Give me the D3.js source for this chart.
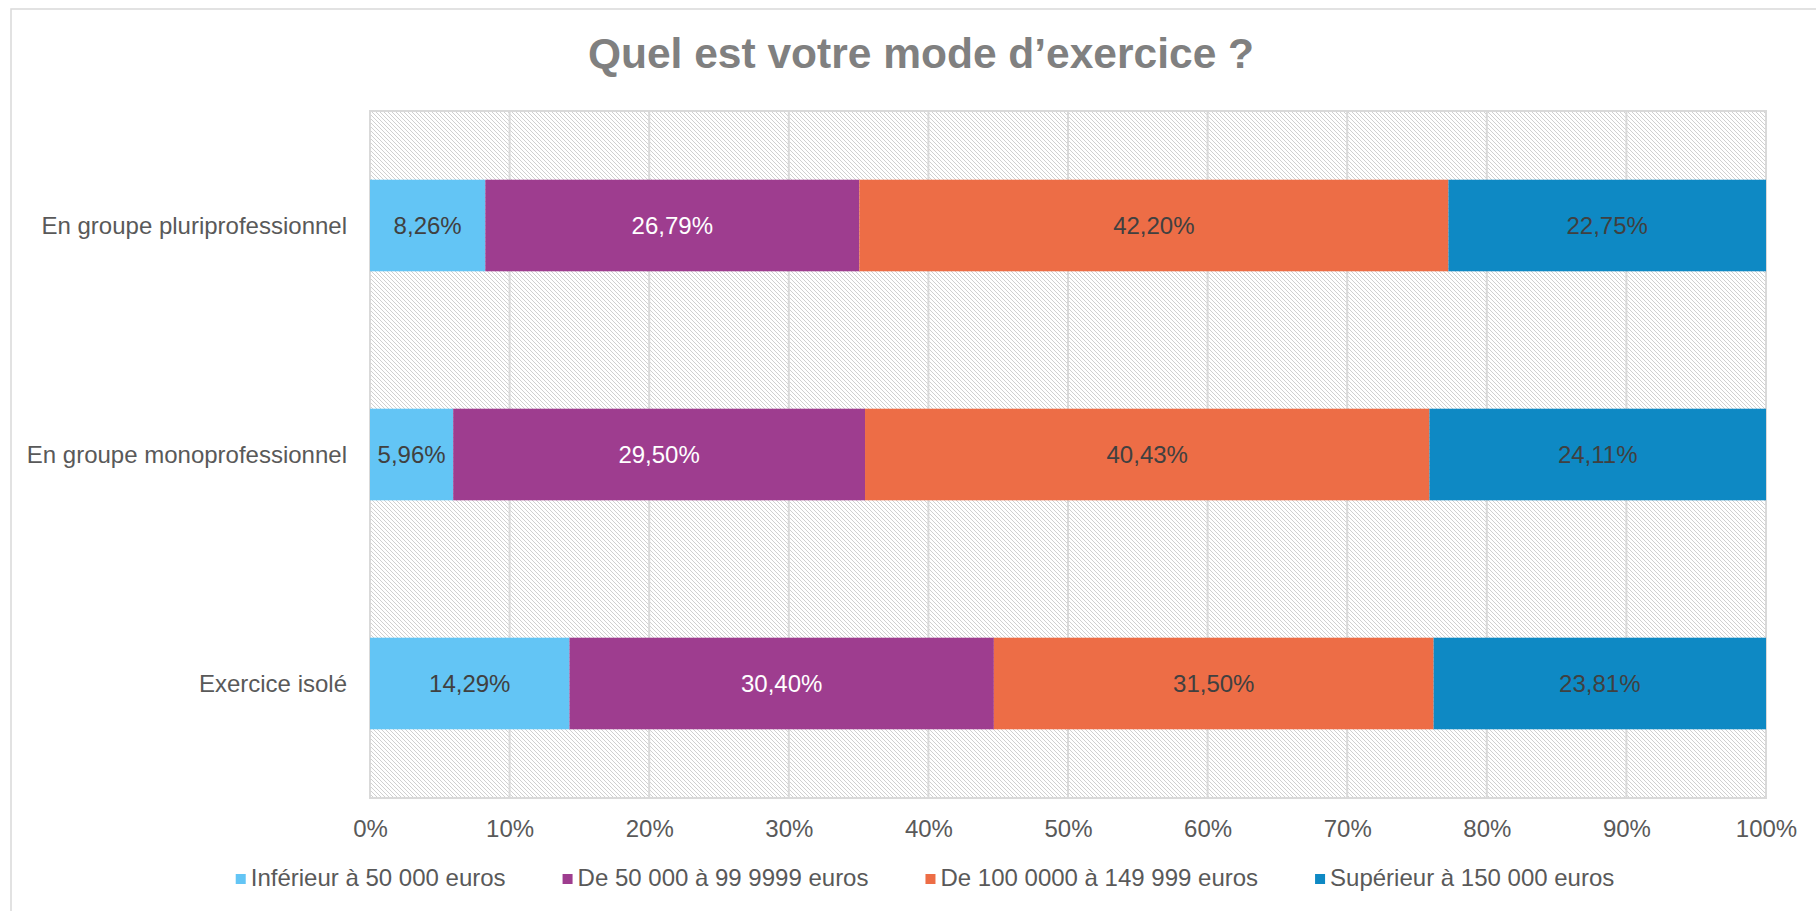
<!DOCTYPE html>
<html>
<head>
<meta charset="utf-8">
<script src="https://cdn.jsdelivr.net/npm/d3@7"></script>
<style>
  html, body { margin: 0; padding: 0; background: #fff; }
  svg { display: block; font-family: "Liberation Sans", Arial, sans-serif; }
</style>
</head>
<body>
<svg id="chart" width="1816" height="911"></svg>
<script>
const title = "Quel est votre mode d\u2019exercice ?";
const categories = ["En groupe pluriprofessionnel", "En groupe monoprofessionnel", "Exercice isolé"];
const seriesNames = ["Inférieur à 50 000 euros", "De 50 000 à 99 9999 euros", "De 100 0000 à 149 999 euros", "Supérieur à 150 000 euros"];
const inferieur50k = [8.26, 5.96, 14.29];
const de50a100k = [26.79, 29.50, 30.40];
const de100a150k = [42.20, 40.43, 31.50];
const superieur150k = [22.75, 24.11, 23.81];
const tickValues = [0, 10, 20, 30, 40, 50, 60, 70, 80, 90, 100];
const seriesColors = ["#63C5F5", "#9E3D8F", "#ED6D46", "#0E89C4"];
const labelColors = ["#404040", "#ffffff", "#404040", "#404040"];

const seriesValues = [inferieur50k, de50a100k, de100a150k, superieur150k];
const table = categories.map((c, i) => {
  const row = { cat: c };
  seriesNames.forEach((s, j) => row[s] = seriesValues[j][i]);
  return row;
});

const svg = d3.select("#chart");
const plot = { left: 370, right: 1766, top: 111, bottom: 798 };

// outer chart border
svg.append("rect").attr("x", 11).attr("y", 9).attr("width", 1900).attr("height", 1000)
  .attr("fill", "#fff").attr("stroke", "#d9d9d9").attr("stroke-width", 1.5);

// hatch pattern
const defs = svg.append("defs");
const pat = defs.append("pattern").attr("id", "hatch").attr("patternUnits", "userSpaceOnUse")
  .attr("width", 4).attr("height", 4);
pat.append("rect").attr("width", 4).attr("height", 4).attr("fill", "#ffffff");
for (let k = 0; k < 4; k++) {
  pat.append("rect").attr("x", k).attr("y", k).attr("width", 1).attr("height", 1).attr("fill", "#d0d0d0");
}

const x = d3.scaleLinear().domain([0, 100]).range([plot.left, plot.right]);
const y = d3.scaleBand().domain(categories).range([plot.top, plot.bottom])
  .paddingInner(0.6).paddingOuter(0.3);

// plot background
svg.append("rect").attr("x", plot.left).attr("y", plot.top)
  .attr("width", plot.right - plot.left).attr("height", plot.bottom - plot.top)
  .attr("fill", "url(#hatch)");

// gridlines
svg.append("g").selectAll("line").data(tickValues).join("line")
  .attr("x1", d => x(d)).attr("x2", d => x(d))
  .attr("y1", plot.top).attr("y2", plot.bottom)
  .attr("stroke", "#d9d9d9").attr("stroke-width", 2);

// plot border
svg.append("rect").attr("x", plot.left).attr("y", plot.top)
  .attr("width", plot.right - plot.left).attr("height", plot.bottom - plot.top)
  .attr("fill", "none").attr("stroke", "#d9d9d9").attr("stroke-width", 2);

// stacked bars
const stack = d3.stack().keys(seriesNames);
const stacked = stack(table);
const gBars = svg.append("g");
stacked.forEach((layer, j) => {
  const g = gBars.append("g");
  g.selectAll("rect").data(layer).join("rect")
    .attr("x", d => x(d[0]))
    .attr("y", d => y(d.data.cat))
    .attr("width", d => x(d[1]) - x(d[0]))
    .attr("height", y.bandwidth())
    .attr("fill", seriesColors[j]);
  g.selectAll("text").data(layer).join("text")
    .attr("x", d => (x(d[0]) + x(d[1])) / 2)
    .attr("y", d => y(d.data.cat) + y.bandwidth() / 2)
    .attr("text-anchor", "middle")
    .attr("dominant-baseline", "central")
    .attr("font-size", 24)
    .attr("fill", labelColors[j])
    .text(d => d3.format(".2f")(d[1] - d[0]).replace(".", ",") + "%");
});

// x axis
const xAxis = d3.axisBottom(x).tickValues(tickValues).tickSize(0).tickPadding(0)
  .tickFormat(d => d + "%");
const gx = svg.append("g").attr("transform", `translate(0,${plot.bottom})`).call(xAxis);
gx.select(".domain").remove();
gx.selectAll("text").attr("font-size", 24).attr("fill", "#595959")
  .attr("font-family", "Liberation Sans, Arial, sans-serif")
  .attr("dy", null).attr("y", 39);

// y axis
const yAxis = d3.axisLeft(y).tickSize(0).tickPadding(23);
const gy = svg.append("g").attr("transform", `translate(${plot.left},0)`).call(yAxis);
gy.select(".domain").remove();
gy.selectAll("text").attr("font-size", 24).attr("fill", "#595959")
  .attr("font-family", "Liberation Sans, Arial, sans-serif")
  .attr("dy", null).attr("dominant-baseline", "central");

// title
svg.append("text").attr("x", 921).attr("y", 68).attr("text-anchor", "middle")
  .attr("font-size", 42.5).attr("font-weight", "bold").attr("fill", "#808080")
  .text(title);

// legend
const legend = svg.append("g");
const items = legend.selectAll("g").data(seriesNames).join("g");
items.append("rect").attr("width", 10).attr("height", 10).attr("y", -12)
  .attr("fill", (d, i) => seriesColors[i]);
items.append("text").attr("x", 15).attr("y", 0)
  .attr("font-size", 24).attr("fill", "#595959").text(d => d);
const gap = 57;
const widths = [];
items.each(function() {
  const tw = d3.select(this).select("text").node().getComputedTextLength();
  widths.push(15 + tw);
});
const total = d3.sum(widths) + gap * (widths.length - 1);
const start = 925 - total / 2;
let offs = 0;
items.attr("transform", (d, i) => {
  const tx = start + offs;
  offs += widths[i] + gap;
  return `translate(${tx},${886})`;
});
</script>
</body>
</html>
